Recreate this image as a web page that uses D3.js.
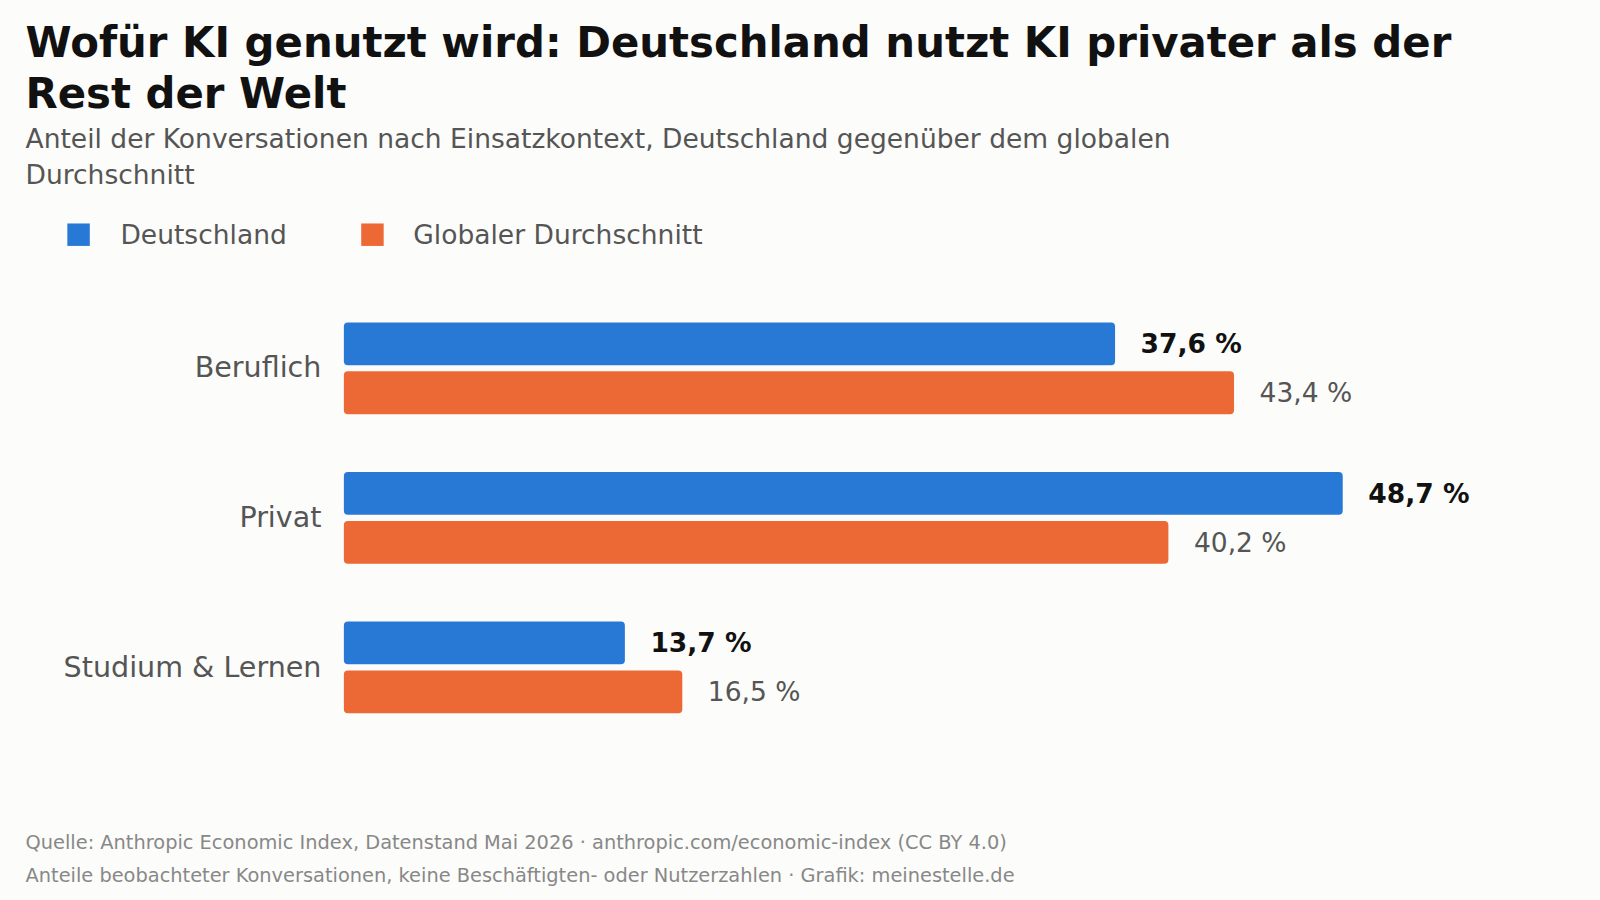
<!DOCTYPE html>
<html><head><meta charset="utf-8">
<script src="https://cdn.jsdelivr.net/npm/d3@7"></script>
<style>body{margin:0;background:#fcfcfa}svg{display:block}</style></head>
<body><svg id="c" width="1600" height="900" viewBox="0 0 1568 882"></svg>
<script>
const categories = ["Beruflich", "Privat", "Studium & Lernen"];
const germany = [37.6, 48.7, 13.7];
const globalAvg = [43.4, 40.2, 16.5];
const seriesNames = ["Deutschland", "Globaler Durchschnitt"];
const colors = ["#2878d6", "#ec6834"];

const svg = d3.select("#c");
const F = "DejaVu Sans, sans-serif";
svg.append("rect").attr("width",1568).attr("height",882).attr("fill","#fcfcfa");
const title = ["Wofür KI genutzt wird: Deutschland nutzt KI privater als der","Rest der Welt"];
title.forEach((t,i)=>svg.append("text").attr("x",25).attr("y",56+i*50).attr("font-family",F).attr("font-size",41).attr("font-weight","bold").attr("fill","#111").text(t));
["Anteil der Konversationen nach Einsatzkontext, Deutschland gegenüber dem globalen","Durchschnitt"].forEach((t,i)=>svg.append("text").attr("x",25).attr("y",145+i*35).attr("font-family",F).attr("font-size",26).attr("fill","#555").text(t));
// legend
[[66,118],[354,405]].forEach((p,i)=>{
  svg.append("rect").attr("x",p[0]).attr("y",219).attr("width",22).attr("height",22).attr("fill",colors[i]);
  svg.append("text").attr("x",p[1]).attr("y",239).attr("font-family",F).attr("font-size",26).attr("fill","#555").text(seriesNames[i]);
});
const x = d3.scaleLinear().domain([0,50]).range([337,1342]);
const y = d3.scaleBand().domain(categories).range([284,731]).paddingInner(0.35).paddingOuter(0.2);
const fmt = v => v.toFixed(1).replace(".",",")+" %";
categories.forEach((c,i)=>{
  const top = y(c), bh = 42, gap = 6;
  const gy = top + (y.bandwidth() - (2*bh+gap))/2;
  svg.append("text").attr("x",315).attr("y",gy+bh+gap/2+9).attr("text-anchor","end").attr("font-family",F).attr("font-size",28).attr("fill","#555").text(c);
  [germany[i], globalAvg[i]].forEach((v,k)=>{
    const yy = gy + k*(bh+gap);
    svg.append("rect").attr("x",x(0)).attr("y",yy).attr("width",x(v)-x(0)).attr("height",bh).attr("rx",4).attr("fill",colors[k]);
    svg.append("text").attr("x",x(v)+25).attr("y",yy+bh/2+9).attr("font-family",F).attr("font-size",26)
      .attr("font-weight",k===0?"bold":"normal").attr("fill",k===0?"#111":"#555").text(fmt(v));
  });
});
["Quelle: Anthropic Economic Index, Datenstand Mai 2026 · anthropic.com/economic-index (CC BY 4.0)",
 "Anteile beobachteter Konversationen, keine Beschäftigten- oder Nutzerzahlen · Grafik: meinestelle.de"]
 .forEach((t,i)=>svg.append("text").attr("x",25).attr("y",832+i*32).attr("font-family",F).attr("font-size",19).attr("fill","#888").text(t));
</script></body></html>
